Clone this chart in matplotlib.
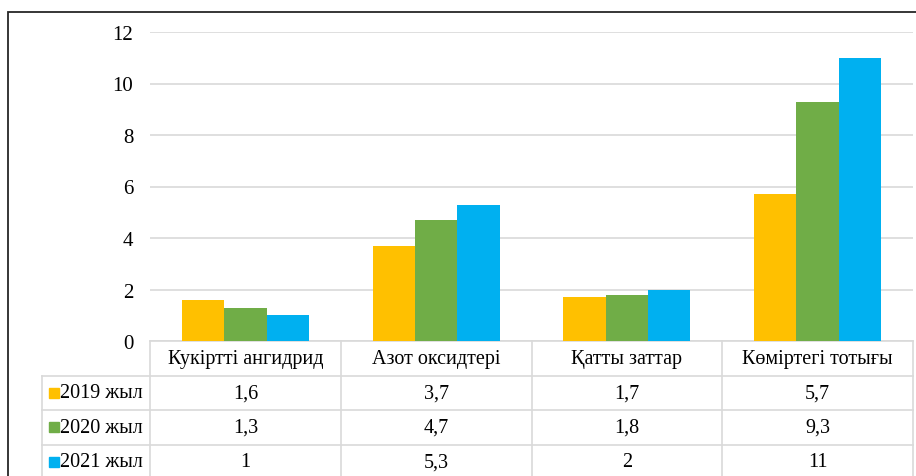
import numpy as np
import matplotlib
matplotlib.use("Agg")
import matplotlib.pyplot as plt
from matplotlib.transforms import blended_transform_factory
from matplotlib.patches import Rectangle

plt.rcParams['font.family'] = ['Liberation Serif', 'DejaVu Serif']

categories = ["Кукіртті ангидрид", "Азот оксидтері", "Қатты заттар", "Көміртегі тотығы"]
series_names = ["2019 жыл", "2020 жыл", "2021 жыл"]
v2019 = [1.6, 3.7, 1.7, 5.7]
v2020 = [1.3, 4.7, 1.8, 9.3]
v2021 = [1.0, 5.3, 2.0, 11.0]
yticks = [0, 2, 4, 6, 8, 10, 12]

colors = ["#FFC000", "#70AD47", "#00B0F0"]
grid_c = "#d9d9d9"
fs = 14.5

W, H = 916, 477
fig = plt.figure(figsize=(W / 100, H / 100), dpi=100)
ax = fig.add_axes([150 / W, (H - 342) / H, (913 - 150) / W, (342 - 33) / H])

x = np.arange(len(categories))
bw = 0.222
for i, vals in enumerate([v2019, v2020, v2021]):
    ax.bar(x + (i - 1) * bw, vals, width=bw, color=colors[i], zorder=3)

ax.set_xlim(-0.5, len(categories) - 0.5)
ax.set_ylim(0, 12)
ax.set_yticks(yticks)
ax.set_yticklabels([str(t) for t in yticks], fontsize=15)
ax.tick_params(axis='y', length=0, pad=12)
ax.set_xticks([])
ax.grid(axis='y', color=grid_c, linewidth=1.2, zorder=0)
for s in ax.spines.values():
    s.set_visible(False)

# data table under the plot
tr = blended_transform_factory(ax.transData, ax.transAxes)
rh = 34.5 / 309
px_per_unit = (913 - 150) / 4
x_lab = -0.5 - (150 - 42) / px_per_unit
right = len(categories) - 0.5
line_kw = dict(color=grid_c, linewidth=1.2, transform=tr, clip_on=False)

ax.plot([-0.5, right], [0, 0], **line_kw)
for r in range(1, 4):
    ax.plot([x_lab, right], [-r * rh, -r * rh], **line_kw)
ax.plot([x_lab, x_lab], [-rh, -4.2 * rh], **line_kw)
for c in range(len(categories) + 1):
    ax.plot([c - 0.5, c - 0.5], [0, -4.2 * rh], **line_kw)

for j, cat in enumerate(categories):
    ax.text(j, -0.5 * rh, cat, transform=tr, ha='center', va='center', fontsize=fs)

for i, vals in enumerate([v2019, v2020, v2021]):
    yc = -(i + 1.5) * rh
    ax.plot([x_lab + 12 / px_per_unit], [yc], marker='s', markersize=6.5,
            color=colors[i], transform=tr, clip_on=False, linestyle='none')
    ax.text(x_lab + 18 / px_per_unit, yc, series_names[i], transform=tr,
            ha='left', va='center', fontsize=fs)
    for j, v in enumerate(vals):
        lab = f"{v:g}".replace(".", ",")
        ax.text(j, yc, lab, transform=tr, ha='center', va='center', fontsize=fs)

# outer chart border (partly cut off at right and bottom)
fig.patches.append(Rectangle((8 / W, -0.1), 1.2, (H - 13) / H + 0.1,
                             transform=fig.transFigure, fill=False,
                             edgecolor="#262626", linewidth=1.3))

fig.savefig("out.png", dpi=100)
